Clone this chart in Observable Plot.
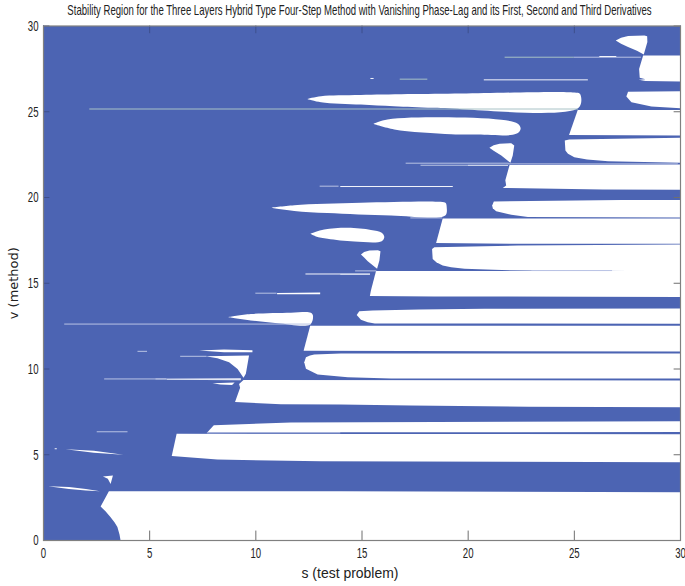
<!DOCTYPE html>
<html><head><meta charset="utf-8">
<script src="https://cdn.jsdelivr.net/npm/d3@7"></script>
<script src="https://cdn.jsdelivr.net/npm/@observablehq/plot@0.6"></script>
<style>html,body{margin:0;padding:0;background:#fff}svg{display:block}</style>
</head><body><div id="chart"></div>
<script>
const titleText = "Stability Region for the Three Layers Hybrid Type Four-Step Method with Vanishing Phase-Lag and its First, Second and Third Derivatives";
const xLabel = "s (test problem)";
const yLabel = "v (method)";
const xTicks = [0,5,10,15,20,25,30];
const yTicks = [0,5,10,15,20,25,30];

// stable (white) regions as [s, v] outlines
const band0 = [[3.63,0],[3.58,0.35],[3.48,0.78],[3.35,1.05],[3.16,1.36],[2.92,1.7],[2.69,1.98],[3.08,2.87],[14,2.87],[30,2.82],[30,0]];
const band1 = [[6.04,4.92],[6.27,6.22],[30,6.2],[30,4.57],[13.07,4.62],[8.19,4.72]];
const band2 = [[7.72,6.31],[8.02,6.72],[11.65,6.88],[30,6.96],[30,6.32]];
const band3 = [[9.02,8.07],[9.26,8.9],[9.21,9.13],[9.42,9.36],[30,9.33],[30,7.77],[22.86,7.8],[17.3,7.87],[14,7.93],[11.18,7.95]];
const band4 = [[12.28,10.4],[12.36,10.69],[12.55,10.79],[12.75,10.85],[14,10.9],[30,10.9],[30,9.44],[16.37,9.44],[14.33,9.52],[12.91,9.68],[12.36,10.01]];
const band5 = [[12.25,11.06],[12.56,12.52],[30,12.52],[30,11.02]];
const band6 = [[14.75,13.15],[14.87,13.37],[15.5,13.41],[17.7,13.47],[20.76,13.51],[30,13.53],[30,12.64],[15.6,12.66],[15.27,12.73],[14.95,12.87]];
const band7 = [[15.37,14.25],[15.42,14.58],[15.66,15.72],[30,15.72],[30,14.2],[18.4,14.23]];
const band8 = [[18.3,17],[18.41,17.1],[22.34,17.2],[30,17.26],[30,15.7],[22.97,15.74],[21.2,15.78],[19.83,15.84],[19.2,15.94],[18.8,16.03],[18.5,16.22],[18.33,16.42]];
const band9 = [[18.49,17.34],[18.8,18.78],[30,18.78],[30,17.3],[22.3,17.3]];
const band10 = [[21.13,19.53],[21.21,19.77],[27.2,19.86],[30,19.85],[30,18.84],[22.81,18.87],[22.03,18.99],[21.32,19.2],[21.16,19.38]];
const band11 = [[21.63,20.56],[21.79,20.7],[21.75,21],[21.95,21.9],[30,21.92],[30,20.45],[26.35,20.47]];
const band12 = [[24.55,23.32],[24.76,23.38],[27.06,23.42],[30,23.48],[30,22.03],[26.59,22.12],[25.6,22.22],[25,22.35],[24.7,22.55],[24.58,22.74]];
const band13 = [[24.75,23.65],[25.14,25.03],[25.16,25.1],[30,25.1],[30,23.62]];
const band14 = [[27.45,25.89],[27.53,26.16],[30,26.2],[30,25.21],[28.63,25.31],[27.69,25.56]];
const band15 = [[28.03,26.86],[28.35,26.9],[28.08,26.98],[28.05,27.5],[28.24,28.28],[30,28.28],[30,26.76],[28.35,26.8]];
const drop1 = [[26.95,29.15],[27.2,29.32],[27.53,29.41],[28.3,29.45],[28.43,29.4],[28.44,29.06],[28.27,28.34],[27.95,28.55],[27.53,28.77],[27.2,28.97]];
const drop2 = [[21,22.9],[21.2,23.05],[21.48,23.13],[22.03,23.17],[22.17,23.03],[22.1,22.45],[21.99,22.02],[21.56,22.45],[21.2,22.72]];
const drop3 = [[14.95,16.68],[15.1,16.82],[15.35,16.91],[15.75,16.92],[15.87,16.87],[15.82,16.33],[15.71,15.84],[15.27,16.29],[15.1,16.5]];
const wedge = [[7.64,10.75],[9.68,10.79],[9.53,9.72],[9.42,9.49],[9.14,10],[8.74,10.4],[8.19,10.63]];
const sliver1 = [[0.22,3.17],[1.2,3.12],[2,3],[2.66,2.87],[2,2.91],[1.2,3]];
const sliver2 = [[2.8,3.73],[3.27,3.79],[3.16,3.3],[3.03,3.6]];
const sliver3 = [[1.04,5.32],[2.37,5.23],[3.76,5],[2.37,5.11]];
const sliver4 = [[7.96,9.17],[9,9.21],[8.88,9.06],[8.33,9.1]];
const sliver5 = [[7.33,11.08],[8.5,11.14],[9.84,11.1],[9.84,10.98],[8.5,10.98]];
const sliver6 = [[5.8,9.42],[9.29,9.46],[9.29,9.34],[5.8,9.38]];
const sliver7 = [[11,14.43],[13.03,14.46],[13.03,14.36],[11,14.36]];
const sharpRegions = [band0,band1,band2,band3,band4,band5,band6,band7,band8,band9,band10,band11,band12,band13,band14,band15,drop1,drop2,drop3,wedge,sliver1,sliver2,sliver3,sliver4,sliver5,sliver6,sliver7];

// smooth lens-shaped regions: each outline starts and ends at its pointed tip
const oval1 = [[12.41,25.75],[13.07,25.91],[14.95,25.98],[19.67,26.06],[25,26.12],[25.27,26.03],[25.2,25.23],[18.4,25.23],[16.5,25.32],[14.95,25.42],[13.07,25.56],[12.41,25.75]];
const oval2 = [[15.53,24.3],[16.2,24.55],[18.73,24.68],[21.56,24.53],[22.34,24.3],[22.47,24],[22.26,23.71],[20.3,23.67],[19.2,23.69],[16.52,23.97],[15.53,24.3]];
const oval3 = [[10.67,19.4],[11.81,19.55],[14.95,19.69],[18.57,19.75],[18.93,19.69],[18.99,19.43],[18.92,18.95],[16.37,18.95],[13.38,19.09],[11.81,19.22],[10.67,19.4]];
const oval4 = [[12.56,17.88],[13.22,18.13],[14.33,18.23],[15.42,18.11],[15.93,17.94],[16.05,17.69],[15.93,17.45],[14.64,17.43],[13.38,17.59],[12.83,17.73],[12.56,17.88]];
const oval5 = [[8.71,13.02],[9.76,13.2],[11.65,13.28],[12.59,13.28],[12.69,13.12],[12.56,12.6],[11.02,12.67],[9.76,12.83],[8.71,13.02]];
const smoothRegions = [oval1,oval2,oval3,oval4,oval5];

// hairline fragments: [s start, s end, v]
const paleLines = [[1,12.6,12.62],[2.53,3.98,6.34],[2.88,5.8,9.42],[4.45,4.9,11.03],[10,11,14.42],[13.03,13.92,20.66],[17.08,21.93,22],[17.78,20,21.88],[21.9,29.9,21.96],[23,26.8,15.74],[14.7,15.7,15.72],[17.3,18.8,18.81],[25,28.16,28.18],[14,15.4,15.52],[5.3,9.3,9.42],[7.72,14,6.28],[6.46,7.7,10.74]];
const whiteLines = [[12.36,15.4,15.54],[14,19.3,20.64],[20,21.9,21.88],[0.55,0.65,5.35],[15.42,15.57,26.94],[20.76,25.66,26.86],[26.2,27,28.22]];
const sageLines = [[2.18,25.2,25.16],[16.8,18.1,26.9],[21.74,25,28.18]];

const lineY = (rows, stroke, strokeWidth) => Plot.ruleY(rows, {y: d => d[2], x1: d => d[0], x2: d => d[1], stroke, strokeWidth});
const toRows = list => list.flatMap((pts, id) => pts.map(([s, v]) => ({s, v, id})));
const blue = "#4c64b3", tickInk = "#6f6f6f", ink = "#222", face = "'Liberation Sans',sans-serif";

const chart = Plot.plot({
  width: 685, height: 586,
  marginLeft: 43, marginRight: 5, marginTop: 25.5, marginBottom: 46,
  style: {background: "#fff", fontFamily: face},
  x: {domain: [0, 30]},
  y: {domain: [0, 30]},
  marks: [
    Plot.frame({fill: blue, stroke: "none"}),
    Plot.line(toRows(sharpRegions), {x: "s", y: "v", z: "id", fill: "#fff", stroke: "none", curve: "linear"}),
    Plot.line(toRows(smoothRegions), {x: "s", y: "v", z: "id", fill: "#fff", stroke: "none", curve: "catmull-rom"}),
    lineY(paleLines, "#b9c3e4", 1),
    lineY(whiteLines, "#f4f6fc", 1),
    lineY(sageLines, "#a8c2c6", 1),
    Plot.axisX({ticks: xTicks, tickSize: 0, tickPadding: 6, label: null, fontSize: 15.5, fontFamily: face, color: ink}),
    Plot.axisY({ticks: yTicks, tickSize: 0, tickPadding: 5, label: null, fontSize: 15.5, fontFamily: face, color: ink}),
    Plot.ruleX(xTicks, {x: d => d, y1: 0, y2: 0.55, stroke: tickInk}),
    Plot.ruleX(xTicks, {x: d => d, y1: 29.55, y2: 30, stroke: "#3d4f8c"}),
    Plot.ruleY(yTicks, {y: d => d, x1: 0, x2: 0.3, stroke: "#3d4f8c"}),
    Plot.ruleY(yTicks, {y: d => d, x1: 29.7, x2: 30, stroke: tickInk}),
    Plot.frame({stroke: "#808080", strokeWidth: 1.2}),
    Plot.text([titleText], {frameAnchor: "top", textAnchor: "middle", lineAnchor: "middle", dx: -2.5, dy: -15, fontSize: 14, fontFamily: face, fill: ink}),
    Plot.text([xLabel], {frameAnchor: "bottom", textAnchor: "middle", lineAnchor: "middle", dx: -12, dy: 33, fontSize: 15.5, fontFamily: face, fill: ink}),
    Plot.text([yLabel], {frameAnchor: "left", textAnchor: "middle", lineAnchor: "middle", dx: -30, rotate: -90, fontSize: 12.5, fontFamily: "'DejaVu Sans',sans-serif", fill: ink})
  ]
});
document.getElementById("chart").append(chart);

// the original's labels are condensed: squeeze the real text to the same widths
const targetWidths = new Map([[titleText, 585], [xLabel, 97], [yLabel, 72]]);
chart.querySelectorAll("text").forEach(t => {
  const natural = t.getComputedTextLength();
  const target = targetWidths.get(t.textContent.trim());
  const k = target ? target / natural : 0.62;
  t.setAttribute("transform", `${t.getAttribute("transform") || ""} scale(${k},1)`);
});
</script></body></html>
